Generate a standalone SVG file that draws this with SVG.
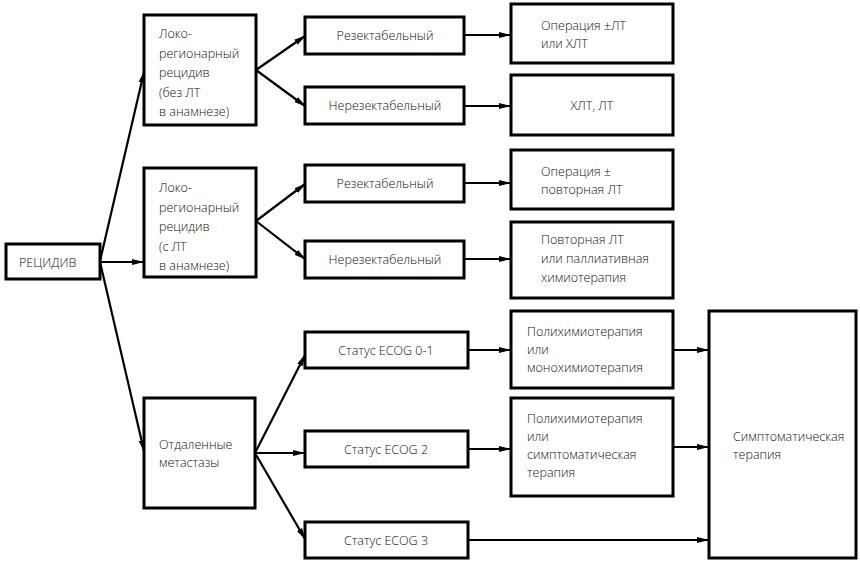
<svg xmlns="http://www.w3.org/2000/svg" width="860" height="561" viewBox="0 0 860 561">
<defs>
<marker id="ah" markerWidth="12" markerHeight="8" refX="11" refY="4" orient="auto" markerUnits="userSpaceOnUse">
<path d="M0,1 L12,4 L0,7 z" fill="#000"/>
</marker>
<style>
.b{fill:#fff;stroke:#000;stroke-width:3}
.t{font-family:"Open Sans","Liberation Sans",Arial,sans-serif;font-weight:300;font-size:12.5px;fill:#111}
.c{text-anchor:middle}
.e{fill:none;stroke:#000;stroke-width:2.2;marker-end:url(#ah)}
</style>
</defs>
<rect width="860" height="561" fill="#fff"/>
<g id="connectors">
<line class="e" x1="100" y1="261" x2="144" y2="72"/>
<line class="e" x1="100" y1="262" x2="143" y2="262"/>
<line class="e" x1="100" y1="262" x2="144" y2="451"/>
<line class="e" x1="256" y1="70" x2="305" y2="36"/>
<line class="e" x1="256" y1="70" x2="305" y2="106"/>
<line class="e" x1="256" y1="221" x2="305" y2="184"/>
<line class="e" x1="256" y1="221" x2="305" y2="259"/>
<line class="e" x1="464" y1="35" x2="510" y2="35"/>
<line class="e" x1="464" y1="106" x2="510" y2="106"/>
<line class="e" x1="464" y1="183" x2="510" y2="183"/>
<line class="e" x1="464" y1="259" x2="510" y2="259"/>
<line class="e" x1="255" y1="453" x2="305" y2="355"/>
<line class="e" x1="255" y1="453" x2="304" y2="453"/>
<line class="e" x1="255" y1="453" x2="305" y2="539"/>
<line class="e" x1="468" y1="350" x2="510" y2="350"/>
<line class="e" x1="468" y1="449" x2="510" y2="449"/>
<line class="e" x1="468" y1="540" x2="708" y2="540"/>
<line class="e" x1="673" y1="350" x2="708" y2="350"/>
<line class="e" x1="673" y1="447" x2="708" y2="447"/>
</g>
<g id="n-recidiv"><rect class="b" x="6" y="244" width="94" height="35"/><text class="t" x="19" y="267">РЕЦИДИВ</text></g>
<g id="n-loko1"><rect class="b" x="144" y="15" width="112" height="110"/><text class="t" x="159" y="38"><tspan x="159">Локо-</tspan><tspan x="159" dy="19.5">регионарный</tspan><tspan x="159" dy="19.5">рецидив</tspan><tspan x="159" dy="19.5">(без ЛТ</tspan><tspan x="159" dy="19.5">в анамнезе)</tspan></text></g>
<g id="n-loko2"><rect class="b" x="144" y="168" width="112" height="109"/><text class="t" x="159" y="192"><tspan x="159">Локо-</tspan><tspan x="159" dy="19.5">регионарный</tspan><tspan x="159" dy="19.5">рецидив</tspan><tspan x="159" dy="19.5">(с ЛТ</tspan><tspan x="159" dy="19.5">в анамнезе)</tspan></text></g>
<g id="n-meta"><rect class="b" x="144" y="398" width="111" height="110"/><text class="t" x="159" y="449"><tspan x="159">Отдаленные</tspan><tspan x="159" dy="18">метастазы</tspan></text></g>
<g id="n-res1"><rect class="b" x="305" y="17" width="159" height="37"/><text class="t c" x="385" y="40">Резектабельный</text></g>
<g id="n-nres1"><rect class="b" x="305" y="87" width="159" height="37"/><text class="t c" x="385" y="110">Нерезектабельный</text></g>
<g id="n-res2"><rect class="b" x="305" y="165" width="159" height="37"/><text class="t c" x="385" y="188">Резектабельный</text></g>
<g id="n-nres2"><rect class="b" x="305" y="241" width="159" height="37"/><text class="t c" x="385" y="264">Нерезектабельный</text></g>
<g id="n-ecog01"><rect class="b" x="305" y="332" width="163" height="36"/><text class="t c" x="386" y="355">Статус ECOG 0-1</text></g>
<g id="n-ecog2"><rect class="b" x="305" y="431" width="163" height="36"/><text class="t c" x="386" y="454">Статус ECOG 2</text></g>
<g id="n-ecog3"><rect class="b" x="305" y="522" width="163" height="36"/><text class="t c" x="386" y="545">Статус ECOG 3</text></g>
<g id="n-op1"><rect class="b" x="511" y="4" width="162" height="59"/><text class="t" x="541" y="30"><tspan x="541">Операция ±ЛТ</tspan><tspan x="541" dy="18">или ХЛТ</tspan></text></g>
<g id="n-hlt"><rect class="b" x="511" y="75" width="162" height="60"/><text class="t c" x="592" y="110">ХЛТ, ЛТ</text></g>
<g id="n-op2"><rect class="b" x="511" y="150" width="162" height="59"/><text class="t" x="541" y="176"><tspan x="541">Операция ±</tspan><tspan x="541" dy="18">повторная ЛТ</tspan></text></g>
<g id="n-povt"><rect class="b" x="511" y="222" width="162" height="76"/><text class="t" x="541" y="244"><tspan x="541">Повторная ЛТ</tspan><tspan x="541" dy="19">или паллиативная</tspan><tspan x="541" dy="19">химиотерапия</tspan></text></g>
<g id="n-poly1"><rect class="b" x="511" y="311" width="162" height="77"/><text class="t" x="527" y="336"><tspan x="527">Полихимиотерапия</tspan><tspan x="527" dy="18">или</tspan><tspan x="527" dy="18">монохимиотерапия</tspan></text></g>
<g id="n-poly2"><rect class="b" x="511" y="398" width="162" height="98"/><text class="t" x="527" y="423"><tspan x="527">Полихимиотерапия</tspan><tspan x="527" dy="18">или</tspan><tspan x="527" dy="18">симптоматическая</tspan><tspan x="527" dy="18">терапия</tspan></text></g>
<g id="n-sympt"><rect class="b" x="709" y="311" width="147" height="247"/><text class="t" x="733" y="441"><tspan x="733">Симптоматическая</tspan><tspan x="733" dy="18">терапия</tspan></text></g>
</svg>
